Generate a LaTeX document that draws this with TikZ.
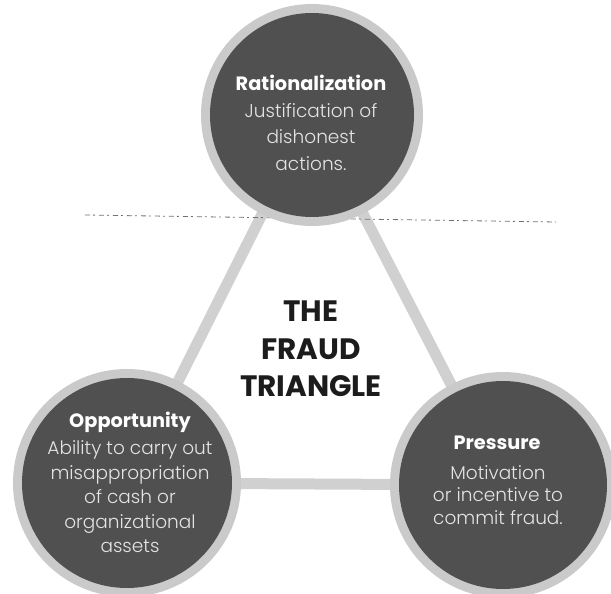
\documentclass[tikz,border=0pt]{standalone}
\usepackage{fontspec}
\setmainfont{Poppins}
\newfontfamily\lightfont{Poppins Light}
\usetikzlibrary{backgrounds}
\definecolor{discc}{HTML}{505050}
\definecolor{haloc}{HTML}{CACACA}
\definecolor{barc}{HTML}{D0D0D0}
\definecolor{bodyc}{HTML}{E4E4E4}
\definecolor{titlec}{HTML}{1C1C1C}
\tikzset{
  disc/.style={circle, fill=discc, inner sep=0pt, minimum size=#1,
    preaction={draw=haloc, line width=18pt}},
  headtxt/.style={text=white, font=\bfseries\fontsize{19.3}{19.3}\selectfont, inner sep=0pt, anchor=base},
  desctxt/.style={text=bodyc, font=\lightfont\fontsize{18.5}{#1}\selectfont, align=center, inner sep=0pt},
  titletxt/.style={text=titlec, font=\bfseries\fontsize{29.5}{37.5}\selectfont, align=center, inner sep=0pt},
  barline/.style={draw=barc, line width=11pt},
  scanline/.style={draw=black!55, line width=0.8pt, dash pattern=on 5pt off 3pt on 2pt off 4pt}
}
\begin{document}
\begin{tikzpicture}[x=1pt,y=-1pt]
\useasboundingbox (0,0) rectangle (611,594);
\clip (0,0) rectangle (611,594);
% discs
\node[disc=204pt] (rat) at (312,115) {};
\node[disc=210pt] (opp) at (127,483) {};
\node[disc=208pt] (pre) at (503,485) {};
% triangle bars behind
\coordinate (scanA) at (85,215);
\coordinate (scanB) at (556,222);
\begin{pgfonlayer}{background}
\fill[white] (0,0) rectangle (611,594);
\draw[barline] (rat.center) -- (opp.center);
\draw[barline] (rat.center) -- (pre.center);
\draw[barline] (opp.center) -- (pre.center);
\draw[scanline] (scanA) -- (scanB);
\end{pgfonlayer}
% texts
\node[headtxt] (ratH) at (311,91) {Rationalization};
\node[desctxt=26.5pt] (ratD) at (311,137) {Justification of\\dishonest\\actions.};
\node[headtxt] (oppH) at (130,427) {Opportunity};
\node[desctxt=24.5pt] (oppD) at (130,497) {Ability to carry out\\misappropriation\\of cash or\\organizational\\assets};
\node[headtxt] (preH) at (497,449) {Pressure};
\node[desctxt=22.5pt] (preD) at (498,495) {Motivation\\or incentive to\\commit fraud.};
\node[titletxt] (title) at (311,349) {THE\\FRAUD\\TRIANGLE};
\end{tikzpicture}
\end{document}
